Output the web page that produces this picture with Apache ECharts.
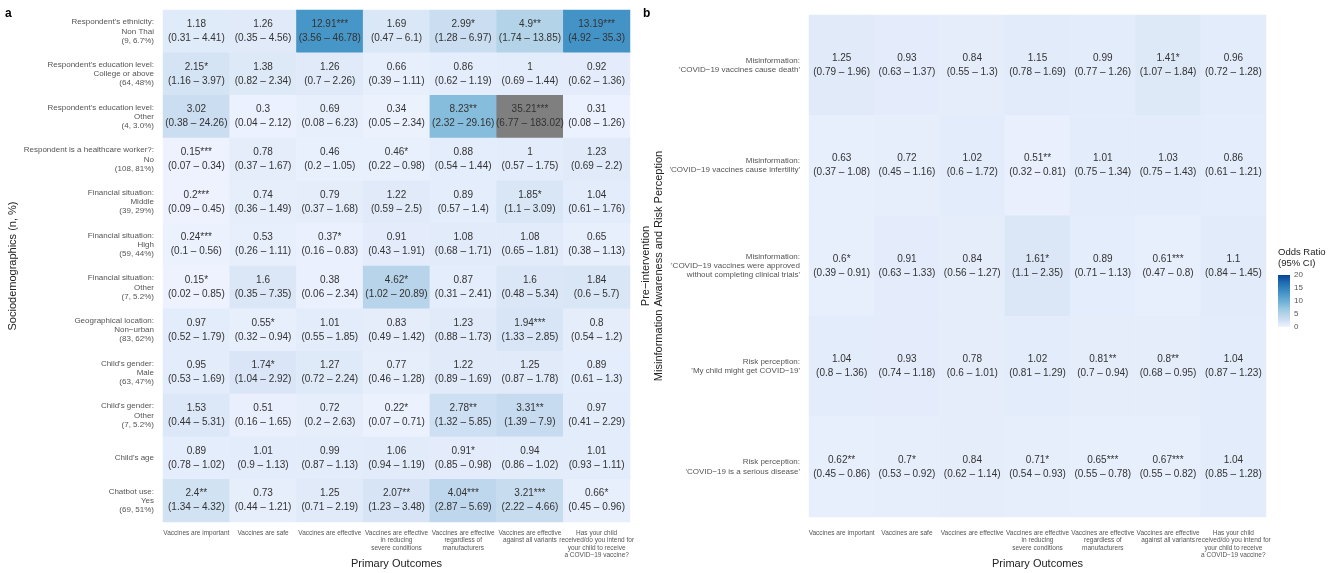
<!DOCTYPE html>
<html>
<head>
<meta charset="utf-8">
<script src="https://cdn.jsdelivr.net/npm/echarts@6/dist/echarts.min.js"></script>
<style>
  html, body { margin: 0; padding: 0; background: #ffffff; }
  #chart { width: 1344px; height: 573px; }
</style>
</head>
<body>
<div id="chart"></div>
<script>
// Outcome columns shared by both heatmaps
const outcomes = [
  'Vaccines are important',
  'Vaccines are safe',
  'Vaccines are effective',
  'Vaccines are effective\nin reducing\nsevere conditions',
  'Vaccines are effective\nregardless of\nmanufacturers',
  'Vaccines are effective\nagainst all variants',
  'Has your child\nreceived/do you intend for\nyour child to receive\na COVID\u221219 vaccine?'
];

// Panel a: sociodemographic predictors
const demoRows = [
  "Respondent's ethnicity:\nNon Thai\n(9, 6.7%)",
  "Respondent's education level:\nCollege or above\n(64, 48%)",
  "Respondent's education level:\nOther\n(4, 3.0%)",
  "Respondent is a healthcare worker?:\nNo\n(108, 81%)",
  "Financial situation:\nMiddle\n(39, 29%)",
  "Financial situation:\nHigh\n(59, 44%)",
  "Financial situation:\nOther\n(7, 5.2%)",
  "Geographical location:\nNon\u2212urban\n(83, 62%)",
  "Child's gender:\nMale\n(63, 47%)",
  "Child's gender:\nOther\n(7, 5.2%)",
  "Child's age",
  "Chatbot use:\nYes\n(69, 51%)"
];
const demoOR = [
  [1.18, 1.26, 12.91, 1.69, 2.99, 4.9, 13.19],
  [2.15, 1.38, 1.26, 0.66, 0.86, 1, 0.92],
  [3.02, 0.3, 0.69, 0.34, 8.23, 35.21, 0.31],
  [0.15, 0.78, 0.46, 0.46, 0.88, 1, 1.23],
  [0.2, 0.74, 0.79, 1.22, 0.89, 1.85, 1.04],
  [0.24, 0.53, 0.37, 0.91, 1.08, 1.08, 0.65],
  [0.15, 1.6, 0.38, 4.62, 0.87, 1.6, 1.84],
  [0.97, 0.55, 1.01, 0.83, 1.23, 1.94, 0.8],
  [0.95, 1.74, 1.27, 0.77, 1.22, 1.25, 0.89],
  [1.53, 0.51, 0.72, 0.22, 2.78, 3.31, 0.97],
  [0.89, 1.01, 0.99, 1.06, 0.91, 0.94, 1.01],
  [2.4, 0.73, 1.25, 2.07, 4.04, 3.21, 0.66]
];
const demoLo = [
  [0.31, 0.35, 3.56, 0.47, 1.28, 1.74, 4.92],
  [1.16, 0.82, 0.7, 0.39, 0.62, 0.69, 0.62],
  [0.38, 0.04, 0.08, 0.05, 2.32, 6.77, 0.08],
  [0.07, 0.37, 0.2, 0.22, 0.54, 0.57, 0.69],
  [0.09, 0.36, 0.37, 0.59, 0.57, 1.1, 0.61],
  [0.1, 0.26, 0.16, 0.43, 0.68, 0.65, 0.38],
  [0.02, 0.35, 0.06, 1.02, 0.31, 0.48, 0.6],
  [0.52, 0.32, 0.55, 0.49, 0.88, 1.33, 0.54],
  [0.53, 1.04, 0.72, 0.46, 0.89, 0.87, 0.61],
  [0.44, 0.16, 0.2, 0.07, 1.32, 1.39, 0.41],
  [0.78, 0.9, 0.87, 0.94, 0.85, 0.86, 0.93],
  [1.34, 0.44, 0.71, 1.23, 2.87, 2.22, 0.45]
];
const demoHi = [
  [4.41, 4.56, 46.78, 6.1, 6.97, 13.85, 35.3],
  [3.97, 2.34, 2.26, 1.11, 1.19, 1.44, 1.36],
  [24.26, 2.12, 6.23, 2.34, 29.16, 183.02, 1.26],
  [0.34, 1.67, 1.05, 0.98, 1.44, 1.75, 2.2],
  [0.45, 1.49, 1.68, 2.5, 1.4, 3.09, 1.76],
  [0.56, 1.11, 0.83, 1.91, 1.71, 1.81, 1.13],
  [0.85, 7.35, 2.34, 20.89, 2.41, 5.34, 5.7],
  [1.79, 0.94, 1.85, 1.42, 1.73, 2.85, 1.2],
  [1.69, 2.92, 2.24, 1.28, 1.69, 1.78, 1.3],
  [5.31, 1.65, 2.63, 0.71, 5.85, 7.9, 2.29],
  [1.02, 1.13, 1.13, 1.19, 0.98, 1.02, 1.11],
  [4.32, 1.21, 2.19, 3.48, 5.69, 4.66, 0.96]
];
const demoSig = [
  ['', '', '***', '', '*', '**', '***'],
  ['*', '', '', '', '', '', ''],
  ['', '', '', '', '**', '***', ''],
  ['***', '', '', '*', '', '', ''],
  ['***', '', '', '', '', '*', ''],
  ['***', '', '*', '', '', '', ''],
  ['*', '', '', '*', '', '', ''],
  ['', '*', '', '', '', '***', ''],
  ['', '*', '', '', '', '', ''],
  ['', '', '', '*', '**', '**', ''],
  ['', '', '', '', '*', '', ''],
  ['**', '', '', '**', '***', '***', '*']
];

// Panel b: misinformation awareness and risk perception
const percRows = [
  "Misinformation:\n'COVID\u221219 vaccines cause death'",
  "Misinformation:\n'COVID\u221219 vaccines cause infertility'",
  "Misinformation:\n'COVID\u221219 vaccines were approved\nwithout completing clinical trials'",
  "Risk perception:\n'My child might get COVID\u221219'",
  "Risk perception:\n'COVID\u221219 is a serious disease'"
];
const percOR = [
  [1.25, 0.93, 0.84, 1.15, 0.99, 1.41, 0.96],
  [0.63, 0.72, 1.02, 0.51, 1.01, 1.03, 0.86],
  [0.6, 0.91, 0.84, 1.61, 0.89, 0.61, 1.1],
  [1.04, 0.93, 0.78, 1.02, 0.81, 0.8, 1.04],
  [0.62, 0.7, 0.84, 0.71, 0.65, 0.67, 1.04]
];
const percLo = [
  [0.79, 0.63, 0.55, 0.78, 0.77, 1.07, 0.72],
  [0.37, 0.45, 0.6, 0.32, 0.75, 0.75, 0.61],
  [0.39, 0.63, 0.56, 1.1, 0.71, 0.47, 0.84],
  [0.8, 0.74, 0.6, 0.81, 0.7, 0.68, 0.87],
  [0.45, 0.53, 0.62, 0.54, 0.55, 0.55, 0.85]
];
const percHi = [
  [1.96, 1.37, 1.3, 1.69, 1.26, 1.84, 1.28],
  [1.08, 1.16, 1.72, 0.81, 1.34, 1.43, 1.21],
  [0.91, 1.33, 1.27, 2.35, 1.13, 0.8, 1.45],
  [1.36, 1.18, 1.01, 1.29, 0.94, 0.95, 1.23],
  [0.86, 0.92, 1.14, 0.93, 0.78, 0.82, 1.28]
];
const percSig = [
  ['', '', '', '', '', '*', ''],
  ['', '', '', '**', '', '', ''],
  ['*', '', '', '*', '', '***', ''],
  ['', '', '', '', '**', '**', ''],
  ['**', '*', '', '*', '***', '***', '']
];

// Colour scale for odds ratios
const scaleMin = 0;
const scaleMax = 20;
const scaleTicks = 5;
const blues = ['#EFF3FF', '#C6DBEF', '#9ECAE1', '#6BAED6', '#4292C6', '#2171B5', '#084594'];
const overflowColor = '#7F7F7F';

const FONT = "'Liberation Sans', Arial, Helvetica, sans-serif";

function cells(or, lo, hi, sig) {
  const out = [];
  or.forEach((row, i) => {
    row.forEach((v, j) => {
      out.push({ value: [j, i, v], lo: lo[i][j], hi: hi[i][j], sig: sig[i][j] });
    });
  });
  return out;
}

const cellLabel = {
  show: true,
  color: '#333333',
  fontSize: 10,
  lineHeight: 14,
  fontFamily: FONT,
  formatter: p => p.data.value[2] + p.data.sig + '\n(' + p.data.lo + ' \u2013 ' + p.data.hi + ')'
};

function xAxisFor(gridIndex, margin, nameGap) {
  return {
    type: 'category',
    gridIndex: gridIndex,
    data: outcomes,
    position: 'bottom',
    axisLine: { show: false },
    axisTick: { show: false },
    splitLine: { show: false },
    axisLabel: {
      interval: 0,
      margin: margin,
      fontSize: 6.5,
      lineHeight: 7.5,
      color: '#555555',
      fontFamily: FONT,
      verticalAlign: 'top'
    },
    name: 'Primary Outcomes',
    nameLocation: 'middle',
    nameGap: nameGap,
    nameMoveOverlap: false,
    nameTextStyle: { fontSize: 11, color: '#222222', fontFamily: FONT }
  };
}

function yAxisFor(gridIndex, rows, name, nameGap) {
  return {
    type: 'category',
    gridIndex: gridIndex,
    data: rows,
    inverse: true,
    axisLine: { show: false },
    axisTick: { show: false },
    splitLine: { show: false },
    axisLabel: {
      interval: 0,
      margin: 9,
      fontSize: 8,
      lineHeight: 9.2,
      color: '#555555',
      fontFamily: FONT
    },
    name: name,
    nameLocation: 'middle',
    nameRotate: 90,
    nameGap: nameGap,
    nameTextStyle: { fontSize: 11, lineHeight: 13, color: '#222222', fontFamily: FONT }
  };
}

// Gradient used for the colour-bar legend, top = max, bottom = min
const barStops = blues.slice().reverse().map((c, k) => ({ offset: k / (blues.length - 1), color: c }));

const chart = echarts.init(document.getElementById('chart'), null, { renderer: 'canvas' });

chart.setOption({
  animation: false,
  backgroundColor: '#ffffff',
  textStyle: { fontFamily: FONT },
  title: [
    { text: 'a', left: 0, top: 3, textStyle: { fontSize: 12, fontWeight: 'bold', color: '#000', fontFamily: FONT } },
    { text: 'b', left: 638, top: 3, textStyle: { fontSize: 12, fontWeight: 'bold', color: '#000', fontFamily: FONT } },
    { text: 'Odds Ratio\n(95% CI)', left: 1273, top: 242,
      textStyle: { fontSize: 9.5, lineHeight: 11, fontWeight: 'normal', color: '#222222', fontFamily: FONT } }
  ],
  grid: [
    { left: 163, top: 10, width: 467, height: 512, outerBoundsMode: 'none', containLabel: false },
    { left: 809, top: 15, width: 457, height: 502, outerBoundsMode: 'none', containLabel: false },
    { left: 1278, top: 275, width: 12, height: 52, outerBoundsMode: 'none', containLabel: false }
  ],
  xAxis: [
    xAxisFor(0, 7, 36),
    xAxisFor(1, 12, 41),
    { type: 'category', gridIndex: 2, data: ['OR'], show: false }
  ],
  yAxis: [
    yAxisFor(0, demoRows, 'Sociodemographics (n, %)', 143),
    yAxisFor(1, percRows, 'Pre\u2212intervention\nMisinformation Awareness and Risk Perception', 139),
    {
      type: 'value', gridIndex: 2, position: 'right',
      min: scaleMin, max: scaleMax, interval: scaleTicks,
      axisLine: { show: false },
      splitLine: { show: false },
      axisTick: { show: true, inside: true, length: 2.5, lineStyle: { color: '#ffffff', width: 1 } },
      axisLabel: { fontSize: 8, margin: 4, color: '#555555', fontFamily: FONT }
    },
    {
      type: 'value', gridIndex: 2, position: 'left',
      min: scaleMin, max: scaleMax, interval: scaleTicks,
      axisLine: { show: false },
      splitLine: { show: false },
      axisTick: { show: true, inside: true, length: 2.5, lineStyle: { color: '#ffffff', width: 1 } },
      axisLabel: { show: false }
    }
  ],
  visualMap: {
    type: 'continuous',
    show: false,
    seriesIndex: [0, 1],
    dimension: 2,
    min: scaleMin,
    max: scaleMax,
    // Upper bound kept just under max so odds ratios above the scale fall out of range
    range: [scaleMin, scaleMax - 1e-6],
    inRange: { color: blues },
    outOfRange: { color: overflowColor }
  },
  series: [
    {
      type: 'heatmap',
      xAxisIndex: 0,
      yAxisIndex: 0,
      data: cells(demoOR, demoLo, demoHi, demoSig),
      label: cellLabel,
      itemStyle: { borderWidth: 0 },
      emphasis: { disabled: true }
    },
    {
      type: 'heatmap',
      xAxisIndex: 1,
      yAxisIndex: 1,
      data: cells(percOR, percLo, percHi, percSig),
      label: cellLabel,
      itemStyle: { borderWidth: 0 },
      emphasis: { disabled: true }
    },
    {
      type: 'bar',
      xAxisIndex: 2,
      yAxisIndex: 2,
      data: [scaleMax],
      barWidth: '100%',
      silent: true,
      z: 1,
      itemStyle: { color: new echarts.graphic.LinearGradient(0, 0, 0, 1, barStops) }
    }
  ]
});
</script>
</body>
</html>
